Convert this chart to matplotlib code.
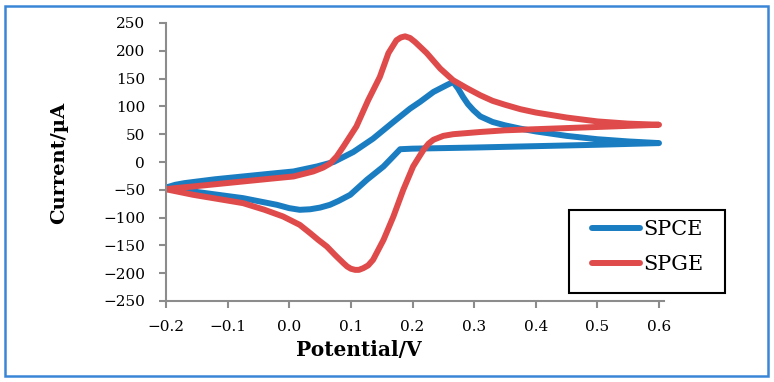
import matplotlib
matplotlib.use("Agg")
import matplotlib.pyplot as plt
from matplotlib.patches import Rectangle

# SPCE cyclic voltammogram: anodic sweep then cathodic sweep (V, uA)
spce_fwd_v = [-0.2, -0.185, -0.17, -0.156, -0.12, -0.075, -0.03, 0.007, 0.045, 0.072,
              0.104, 0.136, 0.169, 0.196, 0.212, 0.234, 0.255, 0.266, 0.274, 0.282,
              0.29, 0.299, 0.31, 0.33, 0.35, 0.375, 0.4, 0.45, 0.5, 0.55, 0.6]
spce_fwd_i = [-46, -41, -38, -36, -31, -26, -21, -17, -8, 0,
              18, 42, 72, 96, 108, 126, 138, 144, 132, 117,
              104, 93, 82, 72, 66, 60, 55, 47, 41, 37, 34]
spce_rev_v = [0.6, 0.5, 0.4, 0.3, 0.2, 0.18, 0.167, 0.153, 0.126, 0.099, 0.08,
              0.066, 0.05, 0.034, 0.017, 0.0, -0.02, -0.075, -0.156, -0.2]
spce_rev_i = [34, 31, 28.5, 26, 24, 23, 8, -8, -32, -59, -70,
              -77, -82, -85, -86, -83, -77, -65, -53, -46]

# SPGE cyclic voltammogram
spge_fwd_v = [-0.2, -0.185, -0.156, -0.12, -0.075, -0.03, 0.007, 0.039, 0.055, 0.066,
              0.077, 0.088, 0.109, 0.128, 0.147, 0.161, 0.174, 0.181, 0.188, 0.196,
              0.204, 0.223, 0.245, 0.266, 0.288, 0.31, 0.33, 0.35, 0.375, 0.4, 0.45,
              0.5, 0.55, 0.6]
spge_fwd_i = [-49, -47, -44, -40, -35, -30, -26, -17, -10, -3,
              10, 28, 64, 111, 153, 196, 219, 224, 226, 223,
              216, 196, 168, 147, 133, 120, 110, 103, 95, 89, 80,
              73, 69, 67]
spge_rev_v = [0.6, 0.5, 0.4, 0.35, 0.31, 0.266, 0.25, 0.234, 0.226, 0.218, 0.21,
              0.201, 0.185, 0.169, 0.153, 0.136, 0.128, 0.12, 0.113, 0.107, 0.1,
              0.094, 0.088, 0.075, 0.061, 0.047, 0.034, 0.017, -0.01, -0.04, -0.075,
              -0.156, -0.2]
spge_rev_i = [67, 63, 59, 57, 54, 50, 47, 40, 33, 22, 8,
              -8, -50, -98, -140, -176, -186, -191, -194, -194, -192,
              -188, -182, -168, -152, -140, -128, -113, -98, -86, -74,
              -59, -49]

x_ticks = [-0.2, -0.1, 0.0, 0.1, 0.2, 0.3, 0.4, 0.5, 0.6]
y_ticks = [-250, -200, -150, -100, -50, 0, 50, 100, 150, 200, 250]

blue = '#1a7dc2'
red = '#df4b4b'
grey = '#8c8c8c'

plt.rcParams['font.family'] = 'DejaVu Serif'

fig = plt.figure(figsize=(7.74, 3.82), dpi=100)
ax = fig.add_axes([166/774, 1 - 301/382, (664 - 166)/774, (301 - 23)/382])

ax.plot(spce_fwd_v + spce_rev_v, spce_fwd_i + spce_rev_i, color=blue, lw=4.3,
        solid_capstyle='round', solid_joinstyle='round', label='SPCE')
ax.plot(spge_fwd_v + spge_rev_v, spge_fwd_i + spge_rev_i, color=red, lw=4.3,
        solid_capstyle='round', solid_joinstyle='round', label='SPGE')

ax.set_xlim(-0.2, -0.2 + 0.8 * (664 - 166) / (659 - 166))
ax.set_ylim(-250, 250)
ax.set_xticks(x_ticks)
ax.set_xticklabels([f'{v:.1f}'.replace('-', '\u2212') for v in x_ticks])
ax.set_yticks(y_ticks)
ax.set_yticklabels([str(v).replace('-', '\u2212') for v in y_ticks])

for s in ['top', 'right']:
    ax.spines[s].set_visible(False)
for s in ['left', 'bottom']:
    ax.spines[s].set_color(grey)
    ax.spines[s].set_linewidth(1.5)
ax.tick_params(axis='both', direction='out', length=5, width=1.5, color=grey,
               labelsize=11)
ax.tick_params(axis='y', pad=10)
ax.tick_params(axis='x', pad=9)

ax.set_ylabel('Current/\u00b5A', fontsize=14, fontweight='bold')
ax.set_xlabel('Potential/V', fontsize=14.5, fontweight='bold')
ax.yaxis.set_label_coords(-0.197, 0.495)
ax.xaxis.set_label_coords(0.3875, -0.14)

# legend entries without frame, frame drawn separately
leg = ax.legend(loc='upper left', bbox_to_anchor=(592/774, 1 - 220/382),
                bbox_transform=fig.transFigure, fontsize=15, frameon=False,
                handlelength=2.3, handletextpad=0.15, labelspacing=0.77,
                borderpad=0, borderaxespad=0)
for h in leg.get_lines():
    h.set_linewidth(4.3)
    h.set_solid_capstyle('round')

fig.patches.append(Rectangle((569/774, 1 - 293/382), 156/774, 83/382,
                             transform=fig.transFigure, fill=False,
                             edgecolor='black', linewidth=1.5))
fig.patches.append(Rectangle((5/774, 6/382), 763/774, 370/382, transform=fig.transFigure,
                             fill=False, edgecolor='#3a86d6', linewidth=1.8))

fig.savefig('out.png', dpi=100)
